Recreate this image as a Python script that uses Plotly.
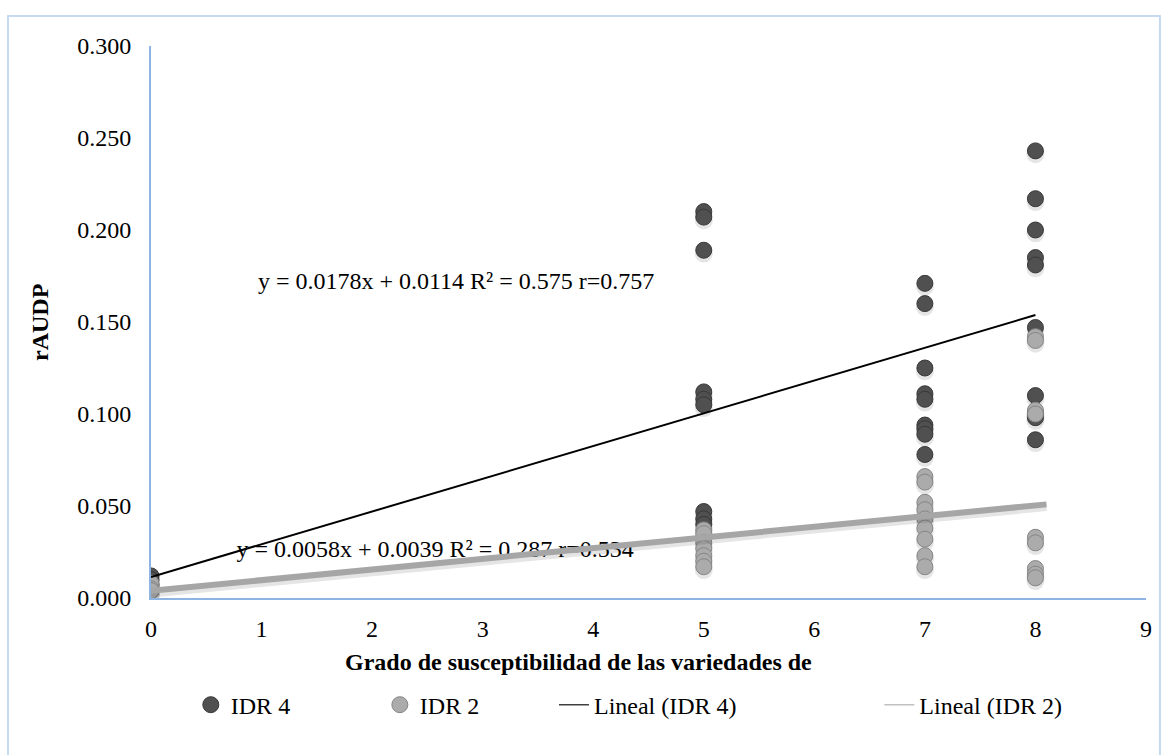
import plotly.graph_objects as go

# Susceptibility grade of each variety (x) and relative AUDPC observed (y)
idr4_x = [0, 0, 0, 0,
          5, 5, 5, 5, 5, 5, 5, 5, 5,
          7, 7, 7, 7, 7, 7, 7, 7, 7,
          8, 8, 8, 8, 8, 8, 8, 8, 8, 8]
idr4_y = [0.012, 0.010, 0.007, 0.004,
          0.210, 0.207, 0.189, 0.112, 0.108, 0.105, 0.047, 0.043, 0.040,
          0.171, 0.160, 0.125, 0.111, 0.108, 0.094, 0.092, 0.089, 0.078,
          0.243, 0.217, 0.200, 0.185, 0.181, 0.147, 0.110, 0.098, 0.086, 0.101]

idr2_x = [0, 0, 0,
          5, 5, 5, 5, 5, 5, 5,
          7, 7, 7, 7, 7, 7, 7, 7, 7,
          8, 8, 8, 8, 8, 8, 8, 8, 8]
idr2_y = [0.008, 0.005, 0.004,
          0.037, 0.035, 0.030, 0.027, 0.023, 0.020, 0.017,
          0.066, 0.063, 0.052, 0.048, 0.043, 0.038, 0.032, 0.023, 0.017,
          0.142, 0.140, 0.102, 0.100, 0.033, 0.030, 0.016, 0.013, 0.011]

# Linear fits (slope, intercept) and their reported statistics
fit4 = {"slope": 0.0178, "intercept": 0.0114, "r2": 0.575, "r": 0.757}
fit2 = {"slope": 0.0058, "intercept": 0.0039, "r2": 0.287, "r": 0.534}
fit4_xrange = [0, 8]
fit2_xrange = [0, 8.1]

x_ticks = list(range(0, 10))
y_ticks = [0.0, 0.05, 0.10, 0.15, 0.20, 0.25, 0.30]

FONT = "Liberation Serif"
AXIS_BLUE = "#8eb4e3"
FS = 24


def line_y(fit, xs):
    return [fit["slope"] * x + fit["intercept"] for x in xs]


def eq_text(fit):
    return (f"y = {fit['slope']:.4f}x + {fit['intercept']:.4f} "
            f"R² = {fit['r2']:.3f} r={fit['r']:.3f}")


fig = go.Figure()

# Equation labels sit under the trend lines
fig.add_trace(go.Scatter(
    x=[2.76], y=[0.1712], mode="text", text=[eq_text(fit4)],
    textfont=dict(family=FONT, size=FS, color="black"),
    showlegend=False, hoverinfo="skip"))
fig.add_trace(go.Scatter(
    x=[2.57], y=[0.0255], mode="text", text=[eq_text(fit2)],
    textfont=dict(family=FONT, size=FS, color="black"),
    showlegend=False, hoverinfo="skip"))

# Soft drop shadows under the markers
shadow_dy = 0.0018
fig.add_trace(go.Scatter(
    x=idr4_x + idr2_x, y=[v - shadow_dy for v in idr4_y + idr2_y],
    mode="markers",
    marker=dict(size=18, color="rgba(0,0,0,0.10)", line=dict(width=0)),
    showlegend=False, hoverinfo="skip"))

fig.add_trace(go.Scatter(
    x=idr4_x, y=idr4_y, mode="markers", name="IDR 4", legend="legend",
    marker=dict(size=16, color="#505050", line=dict(color="#383838", width=1))))
fig.add_trace(go.Scatter(
    x=idr2_x, y=idr2_y, mode="markers", name="IDR 2", legend="legend2",
    marker=dict(size=16, color="#ababab", line=dict(color="#858585", width=1))))

# Trend lines
fig.add_trace(go.Scatter(
    x=fit2_xrange, y=[v - 0.0015 for v in line_y(fit2, fit2_xrange)],
    mode="lines", line=dict(color="rgba(0,0,0,0.10)", width=8),
    showlegend=False, hoverinfo="skip"))
fig.add_trace(go.Scatter(
    x=fit2_xrange, y=line_y(fit2, fit2_xrange), mode="lines",
    line=dict(color="#a6a6a6", width=6), showlegend=False))
fig.add_trace(go.Scatter(
    x=fit4_xrange, y=line_y(fit4, fit4_xrange), mode="lines",
    line=dict(color="black", width=2), showlegend=False))

# Legend entries for the fitted lines
fig.add_trace(go.Scatter(
    x=[None], y=[None], mode="lines", name="Lineal (IDR 4)", legend="legend3",
    line=dict(color="#404040", width=1.5)))
fig.add_trace(go.Scatter(
    x=[None], y=[None], mode="lines", name="Lineal (IDR 2)", legend="legend4",
    line=dict(color="#c0c0c0", width=1.5)))

legend_font = dict(family=FONT, size=FS, color="black")


def legend_at(xp):
    return dict(x=xp, y=-0.194, xanchor="left", yanchor="middle",
                orientation="h", font=legend_font, bgcolor="rgba(0,0,0,0)",
                itemclick=False, itemdoubleclick=False)


fig.update_layout(
    width=1167, height=755,
    margin=dict(l=151, r=21, t=46, b=157),
    paper_bgcolor="white", plot_bgcolor="white",
    font=dict(family=FONT, size=FS, color="black"),
    showlegend=True,
    legend=legend_at(0.040),
    legend2=legend_at(0.230),
    legend3=legend_at(0.405),
    legend4=legend_at(0.732),
    xaxis=dict(
        range=[0, 9], tickvals=x_ticks, ticktext=[str(v) for v in x_ticks],
        showgrid=False, zeroline=False, showline=True,
        linecolor=AXIS_BLUE, linewidth=2, ticks="", ticklabelstandoff=8,
        tickfont=dict(family=FONT, size=FS)),
    yaxis=dict(
        range=[0, 0.30], tickvals=y_ticks,
        ticktext=[f"{v:.3f}" for v in y_ticks],
        showgrid=False, zeroline=False, showline=True,
        linecolor=AXIS_BLUE, linewidth=2, ticks="", ticklabelstandoff=13,
        tickfont=dict(family=FONT, size=FS)),
    shapes=[dict(type="rect", xref="paper", yref="paper",
                 x0=-0.1437, x1=1.014, y0=-0.30, y1=1.0543,
                 line=dict(color="#c6d9f1", width=2), layer="below")],
    annotations=[
        dict(text="<b>Grado de susceptibilidad de las variedades de</b>",
             xref="paper", yref="paper", x=0.430, y=-0.116,
             xanchor="center", yanchor="middle", showarrow=False,
             font=dict(family=FONT, size=FS)),
        dict(text="<b>rAUDP</b>", xref="paper", yref="paper",
             x=-0.1116, y=0.5, textangle=-90, xanchor="center",
             yanchor="middle", showarrow=False,
             font=dict(family=FONT, size=FS)),
    ],
)

fig.write_html("out.html")
